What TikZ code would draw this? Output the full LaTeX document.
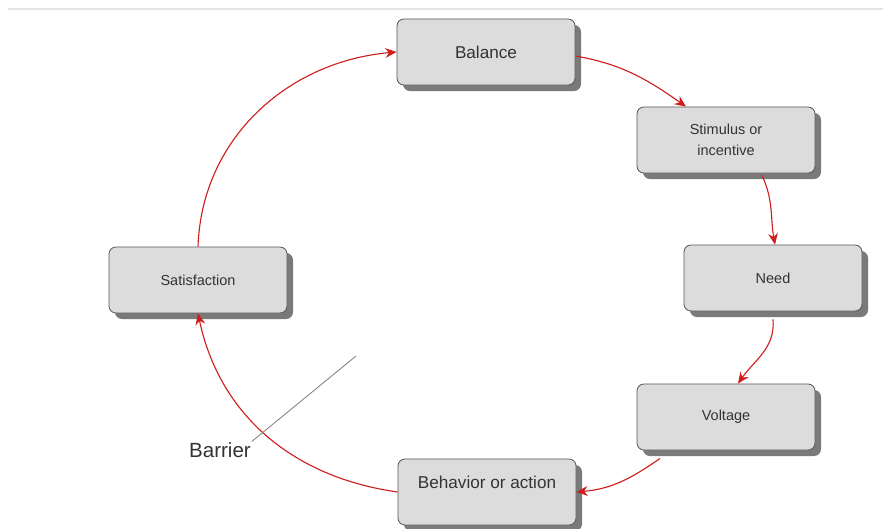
\documentclass[tikz,border=0pt]{standalone}
\usepackage{fontspec}
\setmainfont{Liberation Sans}
\usepackage{tikz}
\usetikzlibrary{
  arrows.meta,
  positioning,
  shadows
}
\usepackage{xcolor}
\definecolor{boxgray}{HTML}{DCDCDC}
\definecolor{edgegray}{HTML}{5A5A5A}
\definecolor{shadegray}{HTML}{7A7A7A}
\definecolor{cyclered}{HTML}{D01E1E}
\definecolor{textgray}{HTML}{333333}
\tikzset{
  stage/.style={
    rectangle, draw=edgegray, fill=boxgray, rounded corners=5pt,
    minimum width=4.45cm, minimum height=1.65cm,
    font=\fontsize{10.3}{15}\selectfont, text=textgray, align=center, line width=0.6pt,
    drop shadow={shadow xshift=0.15cm, shadow yshift=-0.15cm, fill=shadegray, opacity=1}
  },
  bigstage/.style={stage, font=\fontsize{12.2}{15}\selectfont},
  flow/.style={-{Stealth[length=8pt, width=7pt]}, draw=cyclered, line width=0.8pt},
}

\begin{document}
\begin{tikzpicture}[x=0.025cm, y=0.025cm]
\useasboundingbox (0,0) rectangle (883,528);

% faint top rule
\draw[gray!20, line width=1pt] (8,519) -- (883,519);

% Stages of the cycle
\node[bigstage] (bal) at (486,476) {Balance};
\node[stage] (stim) at (726,388) {Stimulus or\\incentive};
\node[stage] (need) at (773,250) {Need};
\node[stage] (volt) at (726,111) {Voltage};
\node[bigstage, text depth=0.5cm] (beh) at (487,36) {Behavior or action};
\node[stage] (sat) at (198,248) {Satisfaction};

% Arrows
\draw[flow] (sat.north) to[out=88, in=185] (bal.west);
\draw[flow] ([yshift=-0.1cm]bal.east) to[out=-10, in=145] ([xshift=-1cm]stim.north);
\draw[flow] ([xshift=0.9cm, yshift=-0.05cm]stim.south) to[out=-65, in=100] ([xshift=0.05cm]need.north);
\draw[flow] ([yshift=-0.2cm]need.south) to[out=-85, in=55] ([xshift=0.3cm]volt.north);
\draw[flow] ([xshift=-1.65cm, yshift=-0.2cm]volt.south) to[out=-145, in=5] (beh.east);
\draw[flow] (beh.west) to[out=172, in=-78] (sat.south);

% Barrier
\node[font=\fontsize{14.6}{17}\selectfont, text=textgray] (bar) at (220,78) {Barrier};
\coordinate (barend) at (356,172);
\draw[gray, line width=0.6pt] ([xshift=-0.1cm, yshift=-0.1cm]bar.north east) -- (barend);

\end{tikzpicture}
\end{document}
